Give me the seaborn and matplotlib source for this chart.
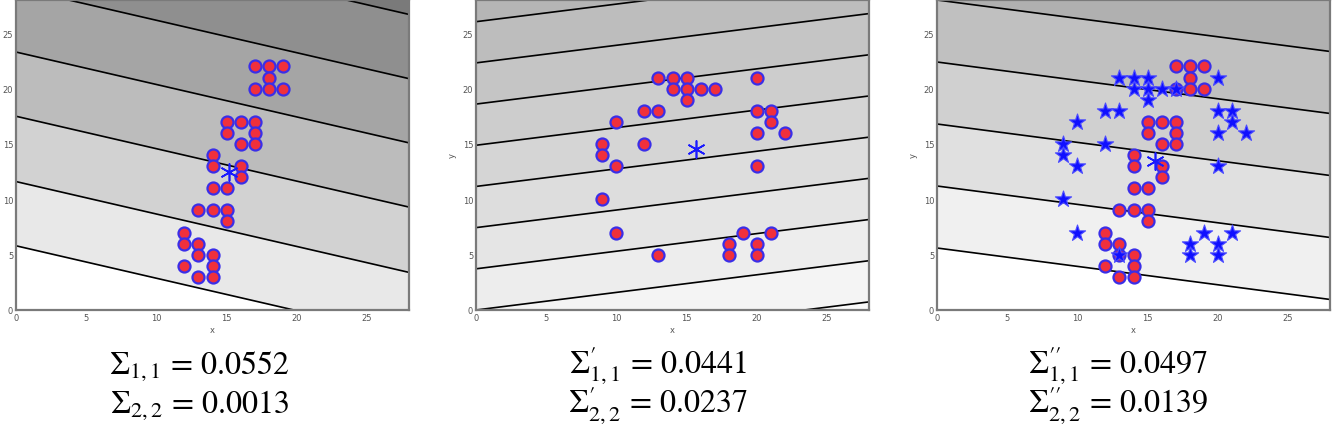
import numpy as np
import seaborn as sns
import matplotlib.pyplot as plt

# --- data ------------------------------------------------------------------
# cluster A (red circles): panel 1 and panel 3
A_X = [17, 18, 19, 18, 17, 18, 19, 15, 16, 17, 15, 17, 16, 17, 14, 14, 16, 16,
       14, 15, 13, 14, 15, 15, 12, 12, 13, 13, 14, 12, 14, 13, 14]
A_Y = [22, 22, 22, 21, 20, 20, 20, 17, 17, 17, 16, 16, 15, 15, 14, 13, 13, 12,
       11, 11, 9, 9, 9, 8, 7, 6, 6, 5, 5, 4, 4, 3, 3]

# cluster B: panel 2 (circles) and panel 3 (stars)
B_X = [13, 14, 15, 20, 14, 15, 16, 17, 15, 12, 13, 20, 21, 10, 21, 20, 22,
       9, 12, 9, 10, 20, 9, 10, 19, 21, 18, 20, 13, 18, 20]
B_Y = [21, 21, 21, 21, 20, 20, 20, 20, 19, 18, 18, 18, 18, 17, 17, 16, 16,
       15, 15, 14, 13, 13, 10, 7, 7, 7, 6, 6, 5, 5, 5]

# estimated means (asterisks)
MEAN_X = [15.2, 15.7, 15.5]
MEAN_Y = [12.5, 14.5, 13.5]

# background contour planes: lines y = level + slope * x
SLOPES = [-0.293, 0.159, -0.166]
LEVELS = [
    [5.8, 11.6, 17.5, 23.3, 29.1, 34.9],
    [-3.72, 0.0, 3.72, 7.44, 11.16, 14.88, 18.6, 22.32, 26.04],
    [5.6, 11.2, 16.8, 22.4, 28.0],
]
BAND_GREYS = [
    [255, 232, 210, 188, 165, 143, 122],
    [250, 244, 237, 229, 221, 213, 205, 197, 189, 181],
    [255, 240, 224, 208, 192, 176],
]

CAPTIONS = [
    (r'$\Sigma_{1,1}\,=\,0.0552$', r'$\Sigma_{2,2}\,=\,0.0013$'),
    (r'$\Sigma^{\prime}_{1,1}\,=\,0.0441$', r'$\Sigma^{\prime}_{2,2}\,=\,0.0237$'),
    (r'$\Sigma^{\prime\prime}_{1,1}\,=\,0.0497$', r'$\Sigma^{\prime\prime}_{2,2}\,=\,0.0139$'),
]
CAPTION_X = [200, 658, 1118]

sns.set_theme(style='white')
plt.rcParams['mathtext.fontset'] = 'stix'

fig = plt.figure(figsize=(13.33, 4.31), dpi=100)
lefts = [16, 476, 937]
axes = [fig.add_axes([l / 1333, 120 / 431, 393 / 1333, 310 / 431]) for l in lefts]

gx, gy = np.meshgrid(np.linspace(0, 28, 300), np.linspace(0, 28, 300))

for i, ax in enumerate(axes):
    z = gy - SLOPES[i] * gx
    lv = [z.min() - 1] + LEVELS[i] + [z.max() + 1]
    cols = [(g / 255, g / 255, g / 255) for g in BAND_GREYS[i]]
    ax.contourf(gx, gy, z, levels=lv, colors=cols, zorder=0)
    ax.contour(gx, gy, z, levels=LEVELS[i], colors='black', linewidths=1.2,
               linestyles='solid', zorder=1)

# points
sns.scatterplot(x=A_X, y=A_Y, ax=axes[0], marker='o', color='#f0303c',
                edgecolor='#3a2ee8', linewidth=1.6, s=75, zorder=3)
sns.scatterplot(x=B_X, y=B_Y, ax=axes[1], marker='o', color='#f0303c',
                edgecolor='#3a2ee8', linewidth=1.6, s=75, zorder=3)
sns.scatterplot(x=A_X, y=A_Y, ax=axes[2], marker='o', color='#f0303c',
                edgecolor='#3a2ee8', linewidth=1.6, s=75, zorder=3)
sns.scatterplot(x=B_X, y=B_Y, ax=axes[2], marker='*', color='#1010ff',
                edgecolor='#4a4aff', linewidth=0.8, s=150, zorder=4)

for i, ax in enumerate(axes):
    sns.scatterplot(x=[MEAN_X[i]], y=[MEAN_Y[i]], ax=ax, marker=(6, 2, 0),
                    color='#1a1aff', edgecolor='#1a1aff', linewidth=1.2, s=150, zorder=5)
    ax.set_xlim(0, 28)
    ax.set_ylim(0, 28)
    ax.set_xticks([0, 5, 10, 15, 20, 25])
    ax.set_yticks([0, 5, 10, 15, 20, 25])
    ax.tick_params(length=0, labelsize=6, labelcolor='#555555', pad=2)
    ax.set_xlabel('x', fontsize=6, color='#555555', labelpad=2)
    if i > 0:
        ax.set_ylabel('y', fontsize=6, color='#555555', labelpad=4)
    for sp in ax.spines.values():
        sp.set_color('#7a7a7a')
        sp.set_linewidth(1.6)

for cx, (l1, l2) in zip(CAPTION_X, CAPTIONS):
    fig.text(cx / 1333, 1 - 366 / 431, l1, ha='center', va='center',
             fontsize=23, color='black')
    fig.text(cx / 1333, 1 - 405 / 431, l2, ha='center', va='center',
             fontsize=23, color='black')

fig.savefig('out.png', dpi=100)
